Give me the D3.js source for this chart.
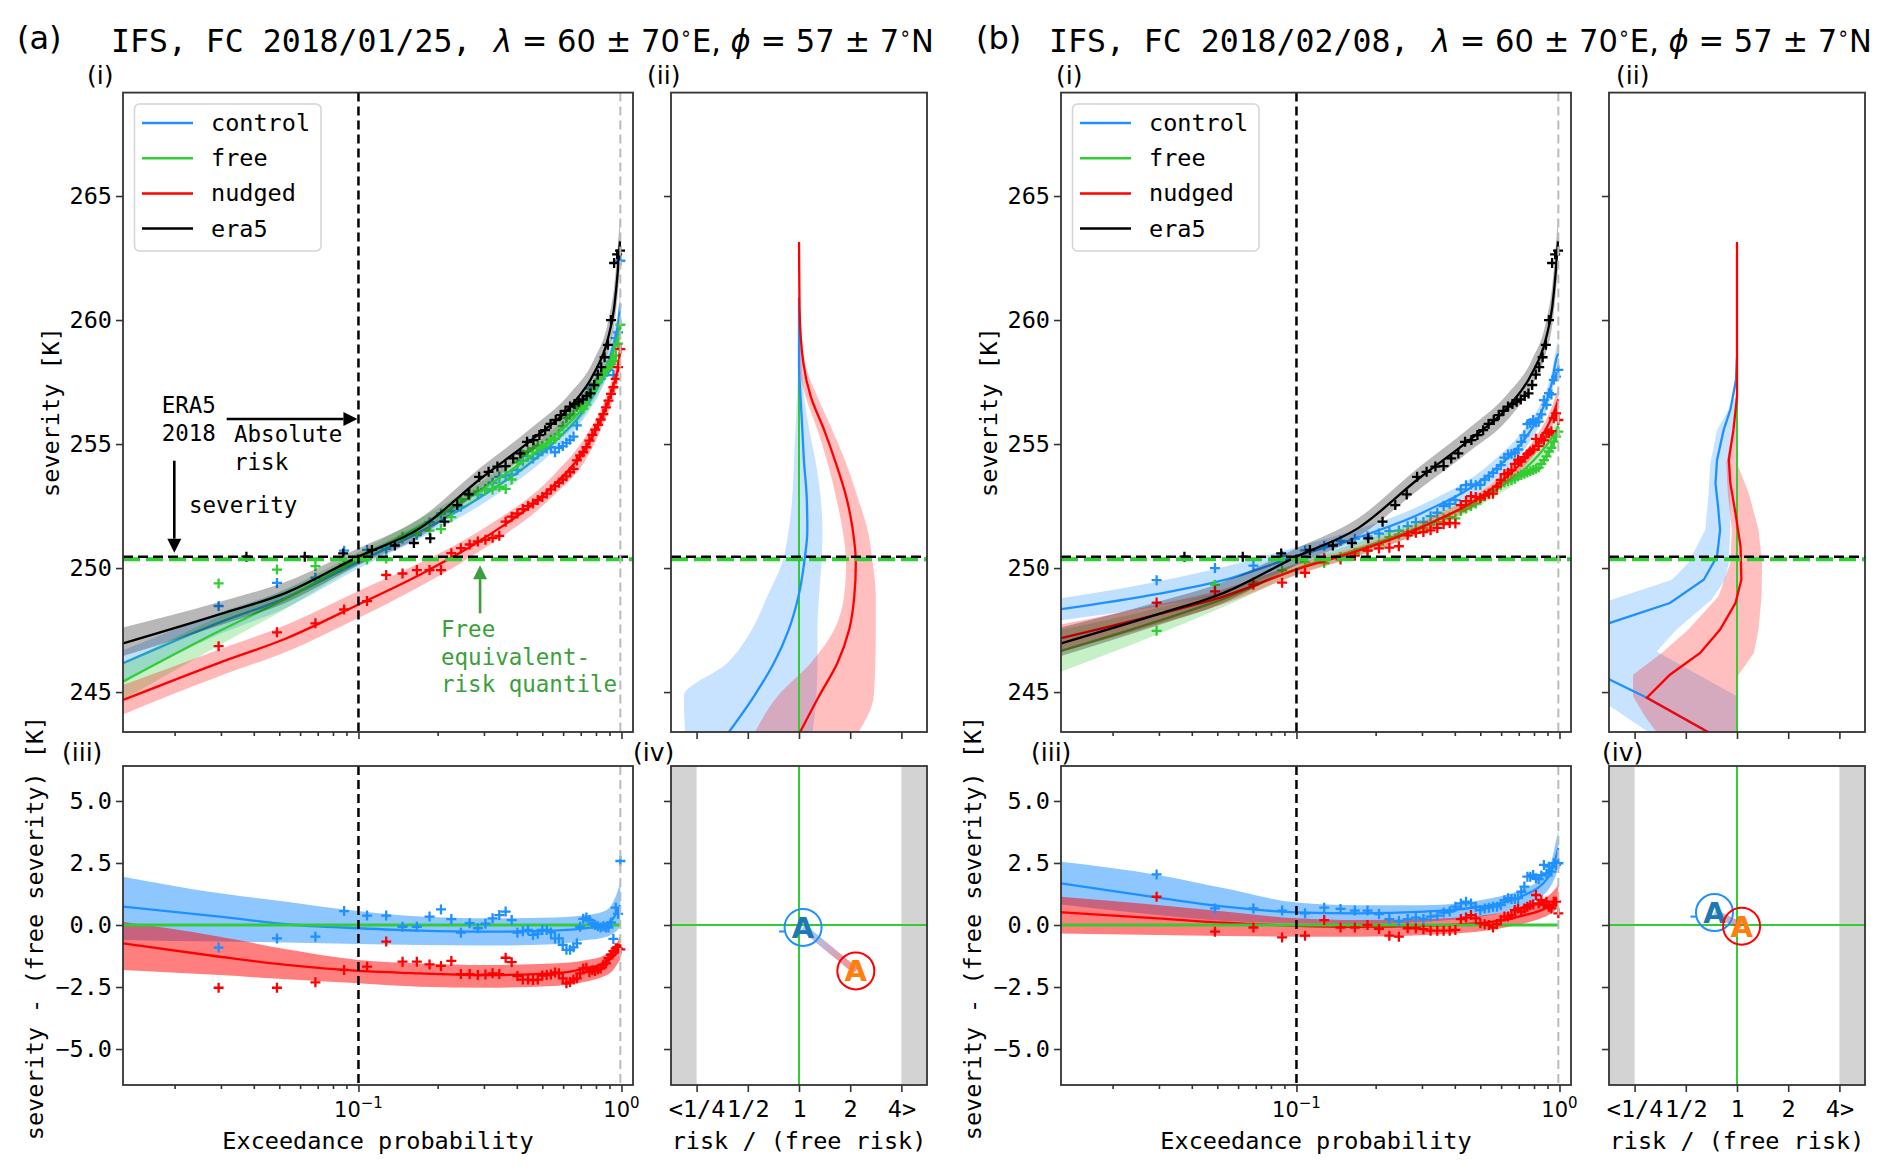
<!DOCTYPE html>
<html><head><meta charset="utf-8">
<script src="https://cdn.jsdelivr.net/npm/d3@7"></script>
<style>body{margin:0;background:#fff}svg{display:block}</style>
</head><body>
<svg id="fig" width="1892" height="1173"></svg>
<script>
// ---------------- DATA ----------------
const SERIES_NAMES = ['control', 'free', 'nudged', 'era5'];
const TITLE_A = 'IFS, FC 2018/01/25,';
const TITLE_B = 'IFS, FC 2018/02/08,';
const TITLE_MATH = [['λ', true], [' = 60 ± 70', false], ['∘', false, true], ['E, ', false], ['ϕ', true], [' = 57 ± 7', false], ['∘', false, true], ['N', false]];

const X_DOMAIN = [0.01273, 1.106];
const SEV_DOMAIN = [243.39, 269.17];
const DIFF_DOMAIN = [-6.45, 6.41];
const LOG2_DOMAIN = [-2.5, 2.5];
const SEV_TICKS = [245, 250, 255, 260, 265];
const DIFF_TICKS = [-5, -2.5, 0, 2.5, 5];
const P_MAJOR_TICKS = [0.1, 1];
const P_MAJOR_LABELS = [['10', '−1'], ['10', '0']];
const P_MINOR_TICKS = [0.02, 0.03, 0.04, 0.05, 0.06, 0.07, 0.08, 0.09, 0.2, 0.3, 0.4, 0.5, 0.6, 0.7, 0.8, 0.9];
const RATIO_TICKS = [-2, -1, 0, 1, 2];
const RATIO_TICK_LABELS = ['<1/4', '1/2', '1', '2', '4>'];

const ERA5_2018_SEV = 250.46;     // black dashed
const FREE_EQ_SEV = 250.36;       // green dashed
const ABS_RISK_P = 0.1;           // black dashed vertical
const LAST_P = 0.99;              // grey dashed vertical
const FREE_EQ_P = 0.29;           // green annotation arrow

// ensemble plotting positions (visible members) and ERA5 years
const P_MODEL = [0.0294,0.0490,0.0686,0.0882,0.1078,0.1275,0.1471,0.1667,0.1863,0.2059,0.2255,0.2451,0.2647,0.2843,0.3039,0.3235,0.3431,0.3627,0.3824,0.4020,0.4216,0.4412,0.4608,0.4804,0.5000,0.5196,0.5392,0.5588,0.5784,0.5980,0.6176,0.6373,0.6569,0.6765,0.6961,0.7157,0.7353,0.7549,0.7745,0.7941,0.8137,0.8333,0.8529,0.8725,0.8922,0.9118,0.9314,0.9510,0.9706,0.9902];
const P_ERA5 = [0.0375,0.0625,0.0875,0.1125,0.1375,0.1625,0.1875,0.2125,0.2375,0.2625,0.2875,0.3125,0.3375,0.3625,0.3875,0.4125,0.4375,0.4625,0.4875,0.5125,0.5375,0.5625,0.5875,0.6125,0.6375,0.6625,0.6875,0.7125,0.7375,0.7625,0.7875,0.8125,0.8375,0.8625,0.8875,0.9125,0.9375,0.9625,0.9875];
const ERA5_SEV = [250.46,250.46,250.59,250.73,250.91,251.01,251.2,251.87,252.54,252.97,253.68,253.88,254.09,254.11,254.42,254.62,255.09,255.16,255.36,255.56,255.81,255.97,256.17,256.34,256.51,256.61,256.71,256.8,256.94,257.04,257.38,257.8,258.1,258.5,259.0,260.0,262.3,262.65,262.8];

// (a) nudged severities read in (i); (iii) differences to free
const NUDGED_SEV_A = [246.85,247.41,247.77,248.33,248.67,249.72,249.78,249.92,249.92,249.92,250.6,250.8,250.95,251.07,251.14,251.22,251.3,251.87,252.07,252.2,252.38,252.5,252.6,252.74,252.87,253.0,253.17,253.3,253.44,253.57,253.7,253.87,254.0,254.34,254.54,254.67,254.87,255.14,255.37,255.58,255.77,255.99,256.21,256.48,256.75,257.02,257.29,257.63,258.1,258.83];
const DIFF_CONTROL_A = [-0.91,-0.54,-0.47,0.56,0.38,0.38,-0.07,-0.07,0.34,0.63,0.24,-0.31,0.07,-0.13,0.05,0.27,0.4,0.54,0.2,-0.31,-0.25,-0.2,-0.4,-0.35,-0.2,-0.2,-0.3,-0.54,-0.54,-0.8,-1.0,-1.0,-0.9,-0.74,-0.07,0.25,0.3,0.2,0.05,0.0,-0.05,-0.1,-0.05,-0.1,-0.1,0.1,-0.56,0.7,0.45,2.58];
const DIFF_NUDGED_A = [-2.53,-2.53,-2.31,-1.81,-1.68,-0.67,-1.48,-1.48,-1.59,-1.65,-1.45,-1.98,-1.98,-2.02,-2.0,-1.95,-1.98,-1.32,-1.5,-2.06,-2.2,-2.2,-2.22,-2.2,-2.04,-2.02,-2.0,-1.91,-1.95,-2.15,-2.35,-2.3,-2.2,-2.15,-1.95,-1.75,-1.72,-1.9,-1.82,-1.85,-1.78,-1.75,-1.6,-1.55,-1.34,-1.2,-1.05,-0.94,-0.95,-0.98];
// (b) free severities read in (i); (iii) differences to free
const FREE_SEV_B = [247.47,249.33,249.43,249.91,250.24,250.2,250.45,250.6,250.7,250.95,251.25,251.35,251.45,251.55,251.62,251.75,251.85,252.0,252.05,252.0,252.3,252.4,252.5,252.6,252.75,252.9,253.0,253.1,253.25,253.35,253.45,253.5,253.55,253.6,253.7,253.75,253.8,253.85,253.9,253.95,254.0,254.05,254.2,254.35,254.5,254.7,254.85,255.1,255.3,255.5];
const DIFF_CONTROL_B = [2.04,0.67,0.67,0.58,0.47,0.7,0.65,0.58,0.58,0.44,0.24,0.16,0.24,0.3,0.24,0.34,0.38,0.5,0.54,0.74,0.87,0.94,0.87,0.74,0.6,0.67,0.7,0.74,0.74,0.8,1.0,1.08,1.05,1.05,1.08,1.34,1.55,1.95,1.95,2.02,1.88,1.85,2.0,2.42,2.08,2.35,2.15,2.49,2.42,2.49];
const DIFF_NUDGED_B = [1.14,-0.27,-0.1,-0.5,-0.43,0.2,-0.1,-0.1,0.0,-0.16,-0.43,-0.47,-0.13,-0.13,-0.17,-0.23,-0.23,-0.23,-0.23,-0.2,0.24,0.3,0.4,0.27,0.07,0.03,0.0,-0.1,0.03,0.2,0.34,0.34,0.4,0.6,0.67,0.54,0.67,0.74,0.8,0.83,1.21,0.87,1.0,0.8,0.94,0.74,0.67,0.94,0.94,0.47];

// fitted curves (centre, lower, upper) at probability knots
const CURVE_P = [0.01273,0.0297,0.0533,0.1,0.171,0.307,0.55,0.737,0.853,0.931,0.978,0.99];
const ERA5_CURVE_P = [0.01273,0.03,0.053,0.1,0.171,0.291,0.454,0.638,0.786,0.885,0.939,0.967,0.9875];
const ERA5_CURVE = [246.96,248.15,249.0,250.46,251.6,253.6,255.16,256.5,257.85,259.19,260.54,261.9,263.2];
const ERA5_LO = [246.45,247.7,248.6,250.12,251.25,253.15,254.7,256.0,257.35,258.6,259.8,261.0,262.1];
const ERA5_HI = [247.6,248.65,249.45,250.8,252.0,254.05,255.65,257.05,258.4,259.85,261.4,262.9,264.2];

const FREE_A_CURVE = [245.42,247.47,248.78,250.38,251.68,253.29,255.27,256.65,257.76,258.7,259.45,259.85];
const FREE_A_LO = [244.68,246.9,248.38,250.11,251.4,252.95,254.93,256.31,257.42,258.25,258.95,259.3];
const FREE_A_HI = [246.16,248.05,249.18,250.65,252.0,253.62,255.61,256.99,258.1,259.15,259.95,260.4];
const CONTROL_A_CURVE = [246.16,247.81,248.81,250.25,251.45,253.02,255.04,256.52,257.76,258.97,260.12,260.65];
const CONTROL_A_LO = [245.42,247.34,248.4,249.98,251.19,252.69,254.71,256.18,257.36,258.5,259.55,260.0];
const CONTROL_A_HI = [246.69,248.21,249.14,250.52,251.79,253.36,255.38,256.85,258.16,259.5,260.7,261.3];
const NUDGED_A_CURVE = [244.68,246.19,247.17,248.53,249.73,251.27,253.32,254.9,256.21,257.35,258.35,258.9];
const NUDGED_A_LO = [244.1,245.65,246.63,247.99,249.26,250.86,252.91,254.43,255.81,256.87,257.8,258.35];
const NUDGED_A_HI = [245.28,246.73,247.71,249.07,250.2,251.68,253.73,255.37,256.61,257.83,258.9,259.45];

const FREE_B_CURVE = [246.66,247.86,248.78,249.97,250.76,251.73,253.05,253.99,254.69,255.23,255.63,255.75];
const FREE_B_LO = [245.82,247.33,248.45,249.74,250.49,251.46,252.78,253.72,254.42,254.93,255.26,255.35];
const FREE_B_HI = [247.5,248.39,249.11,250.2,251.03,252.0,253.32,254.26,254.96,255.53,256.0,256.15];
const CONTROL_B_CURVE = [248.34,248.96,249.52,250.48,251.23,252.27,253.85,255.2,256.3,257.38,258.52,258.65];
const CONTROL_B_LO = [247.9,248.46,248.99,250.11,250.9,251.94,253.45,254.77,255.9,256.95,258.0,258.1];
const CONTROL_B_HI = [248.78,249.46,250.05,250.85,251.56,252.6,254.25,255.63,256.7,257.81,259.0,259.2];
const NUDGED_B_CURVE = [247.17,248.13,248.87,249.94,250.69,251.7,253.18,254.39,255.29,256.04,256.63,256.8];
const NUDGED_B_LO = [246.62,247.73,248.57,249.72,250.49,251.48,252.93,254.09,254.94,255.64,256.13,256.3];
const NUDGED_B_HI = [247.72,248.53,249.17,250.16,250.89,251.92,253.43,254.69,255.64,256.44,257.13,257.3];

// (iii) difference curves
const DCTRL_A_CURVE = [0.74,0.34,0.03,-0.13,-0.23,-0.27,-0.23,-0.13,0.0,0.27,0.67,0.8];
const DCTRL_A_LO = [-0.6,-0.67,-0.71,-0.77,-0.81,-0.83,-0.78,-0.6,-0.51,-0.34,-0.13,-0.05];
const DCTRL_A_HI = [1.95,1.28,0.94,0.56,0.34,0.27,0.3,0.4,0.54,0.94,1.55,1.8];
const DNUDG_A_CURVE = [-0.74,-1.28,-1.61,-1.85,-1.95,-2.02,-1.95,-1.75,-1.55,-1.28,-1.01,-0.9];
const DNUDG_A_LO = [-1.81,-2.02,-2.19,-2.35,-2.49,-2.53,-2.46,-2.28,-2.08,-1.81,-1.48,-1.4];
const DNUDG_A_HI = [0.13,-0.47,-0.98,-1.41,-1.55,-1.61,-1.55,-1.41,-1.24,-0.94,-0.54,-0.4];
const DCTRL_B_CURVE = [1.68,1.1,0.74,0.51,0.47,0.54,0.8,1.21,1.61,2.15,2.89,3.1];
const DCTRL_B_LO = [0.83,0.4,0.16,0.07,0.03,0.13,0.4,0.8,1.14,1.61,2.15,2.35];
const DCTRL_B_HI = [2.55,2.02,1.48,0.91,0.8,0.8,1.08,1.48,1.88,2.55,3.56,3.8];
const DNUDG_B_CURVE = [0.51,0.27,0.09,-0.03,-0.07,-0.03,0.13,0.4,0.6,0.81,1.0,1.05];
const DNUDG_B_LO = [-0.34,-0.4,-0.44,-0.47,-0.47,-0.4,-0.2,0.07,0.27,0.47,0.67,0.7];
const DNUDG_B_HI = [1.14,0.81,0.54,0.27,0.2,0.24,0.43,0.74,1.01,1.28,1.55,1.65];

// (ii) log2(risk / free risk) against severity
const RISK_A_CTRL_SEV = [260.9,258.26,256.91,255.57,254.23,252.89,251.54,250.2,248.86,247.52,246.17,244.83,243.3];
const RISK_A_CTRL = [0,0,0.03,0.065,0.1,0.15,0.163,0.1,-0.01,-0.2,-0.49,-0.88,-1.4];
const RISK_A_CTRL_LO = [0,-0.02,-0.04,-0.07,-0.1,-0.13,-0.2,-0.33,-0.62,-0.92,-1.4,-2.25,-2.22];
const RISK_A_CTRL_HI = [0,0.05,0.1,0.2,0.33,0.42,0.46,0.44,0.39,0.36,0.36,0.34,0.26];
const RISK_A_NUDG_SEV = [263.15,260.54,258.26,256.91,255.57,254.23,252.89,251.54,250.2,248.86,247.52,246.17,244.83,243.3];
const RISK_A_NUDG = [0,0.01,0.085,0.23,0.49,0.72,0.92,1.05,1.11,1.08,0.98,0.75,0.39,0.0];
const RISK_A_NUDG_LO = [0,0,0,0.13,0.36,0.56,0.72,0.85,0.92,0.88,0.69,0.23,-0.42,-0.88];
const RISK_A_NUDG_HI = [0,0.02,0.12,0.36,0.65,0.92,1.14,1.34,1.44,1.5,1.5,1.49,1.46,1.14];
const RISK_A_FREE_TOP = 260.6;

const RISK_B_CTRL_SEV = [258.52,257.58,256.38,255.57,254.36,253.42,252.48,251.54,250.47,249.53,248.59,247.79,246.72,245.5,244.77,243.3];
const RISK_B_CTRL = [0,-0.02,-0.13,-0.26,-0.39,-0.42,-0.37,-0.33,-0.39,-0.65,-1.31,-2.48,-3.3,-2.48,-1.76,-0.49];
const RISK_B_CTRL_BAND_SEV = [257.58,256.91,255.57,254.23,252.89,251.54,250.2,249.53,248.72,247.52,246.64,245.77,244.83,244.43,243.3];
const RISK_B_CTRL_LO = [0,-0.03,-0.39,-0.52,-0.56,-0.62,-0.95,-1.27,-2.45,-3.5,-3.5,-3.5,-3.5,-2.48,-1.67];
const RISK_B_CTRL_HI = [0,0,-0.08,-0.13,-0.13,-0.13,-0.16,-0.23,-0.5,-1.18,-1.57,-0.82,0,0,0];
const RISK_B_NUDG_SEV = [263.15,256.91,255.57,254.36,253.42,252.21,250.87,249.53,248.59,247.52,246.58,245.7,244.77,243.3];
const RISK_B_NUDG = [0,0,-0.07,-0.16,-0.13,-0.03,0.07,0.085,-0.03,-0.33,-0.72,-1.31,-1.76,-0.49];
const RISK_B_NUDG_BAND_SEV = [256.91,255.57,254.23,253.02,251.54,250.2,248.86,247.52,246.58,245.7,244.83,244.03,243.3];
const RISK_B_NUDG_LO = [0,-0.08,-0.21,-0.18,-0.1,-0.13,-0.36,-0.95,-1.47,-2.03,-2.03,-1.8,-1.54];
const RISK_B_NUDG_HI = [0,0,0,0.23,0.42,0.49,0.48,0.42,0.33,0.03,0,0,0];
const RISK_B_FREE_TOP = 257.6;

// (iv) summary points: [control, nudged]
const SUMMARY_A_LOG2RISK = [0.08, 1.11];
const SUMMARY_A_DIFF = [-0.1, -1.85];
const SUMMARY_B_LOG2RISK = [-0.44, 0.09];
const SUMMARY_B_DIFF = [0.5, -0.05];

// ---------------- STYLE ----------------
const MONO = "'DejaVu Sans Mono', monospace";
const SANS = "'DejaVu Sans', sans-serif";
const COL = {control: '#1e90ff', free: '#32cd32', nudged: '#ff0000', era5: '#000000'};
const ANN_GREEN = '#3a9f3a';

const svg = d3.select('#fig');
const defs = svg.append('defs');

function plus(x, y) { return `M${x-5},${y}h10M${x},${y-5}v10`; }
function clipFor(id, p) {
  defs.append('clipPath').attr('id', id).append('rect')
    .attr('x', p.x0).attr('y', p.y0).attr('width', p.x1 - p.x0).attr('height', p.y1 - p.y0);
  return `url(#${id})`;
}
function frame(g, p) {
  g.append('rect').attr('x', p.x0).attr('y', p.y0).attr('width', p.x1 - p.x0).attr('height', p.y1 - p.y0)
    .attr('fill', 'none').attr('stroke', '#333').attr('stroke-width', 1.8);
}
function styleAxis(sel) {
  sel.select('.domain').remove();
  sel.selectAll('.tick line').attr('stroke', '#333').attr('stroke-width', 1.6);
  sel.selectAll('.tick text').attr('font-family', MONO).attr('font-size', 23.5).attr('fill', '#000');
}
function txt(g, x, y, s, opts = {}) {
  const t = g.append('text').attr('x', x).attr('y', y).text(s)
    .attr('font-family', opts.font || MONO).attr('font-size', opts.size || 23.5)
    .attr('fill', opts.fill || '#000');
  if (opts.anchor) t.attr('text-anchor', opts.anchor);
  if (opts.rotate) t.attr('transform', `rotate(-90,${x},${y})`);
  if (opts.weight) t.attr('font-weight', opts.weight);
  return t;
}
function arrow(g, x1, y1, x2, y2, color) {
  const L = Math.hypot(x2 - x1, y2 - y1), ux = (x2 - x1) / L, uy = (y2 - y1) / L;
  const hl = 14, hw = 7;
  const bx = x2 - ux * hl, by = y2 - uy * hl;
  g.append('line').attr('x1', x1).attr('y1', y1).attr('x2', bx).attr('y2', by)
    .attr('stroke', color).attr('stroke-width', 2.6);
  g.append('path').attr('d', `M${x2},${y2}L${bx - uy * hw},${by + ux * hw}L${bx + uy * hw},${by - ux * hw}Z`).attr('fill', color);
}

function drawFigure(F) {
  const dx = F.dx, g = svg.append('g');
  const pI = {x0: 123 + dx, x1: 633 + dx, y0: 92.6, y1: 732};
  const pII = {x0: 671 + dx, x1: 927 + dx, y0: 92.6, y1: 732};
  const pIII = {x0: 123 + dx, x1: 633 + dx, y0: 766, y1: 1085};
  const pIV = {x0: 671 + dx, x1: 927 + dx, y0: 766, y1: 1085};
  const xP = d3.scaleLog().domain(X_DOMAIN).range([pI.x0, pI.x1]);
  const ySev = d3.scaleLinear().domain(SEV_DOMAIN).range([pI.y1, pI.y0]);
  const yDiff = d3.scaleLinear().domain(DIFF_DOMAIN).range([pIII.y1, pIII.y0]);
  const xR = d3.scaleLinear().domain(LOG2_DOMAIN).range([pII.x0, pII.x1]);

  // ---- titles ----
  txt(g, F.tagX, 49, F.tag, {font: SANS, size: 32});
  txt(g, 111 + dx, 52, F.title, {size: 31.5});
  const tm = g.append('text').attr('x', 494 + dx).attr('y', 52).attr('font-family', SANS).attr('font-size', 32);
  TITLE_MATH.forEach(([s, it, sup]) => {
    const ts = tm.append('tspan').text(s).attr('font-style', it ? 'italic' : null);
    if (sup) ts.attr('font-size', 20).attr('dy', -12);
    else if (s === 'E, ' || s === 'N') ts.attr('dy', 12);
  });
  const w = tm.node().getBBox().width;
  const k = 442 / w, x0 = 494 + dx;
  tm.attr('transform', `translate(${x0},0) scale(${k},1) translate(${-x0},0)`);
  const ls = F.labelShift;
  txt(g, 87 + ls, 84, '(i)', {font: SANS, size: 25});
  txt(g, 647 + ls, 84, '(ii)', {font: SANS, size: 25});
  txt(g, 62 + ls, 761, '(iii)', {font: SANS, size: 25});
  txt(g, 633 + ls, 761, '(iv)', {font: SANS, size: 25});

  // ---- panel (i) ----
  const gI = g.append('g').attr('clip-path', clipFor('ci' + F.id, pI));
  F.series.forEach(s => {
    const pts = s.curveP.map((p, i) => ({p, v: s.curve[i], lo: s.lo[i], hi: s.hi[i]}));
    gI.append('path').datum(pts)
      .attr('d', d3.area().x(d => xP(d.p)).y0(d => ySev(d.lo)).y1(d => ySev(d.hi)).curve(d3.curveMonotoneX))
      .attr('fill', s.color).attr('fill-opacity', 0.28).attr('stroke', 'none');
    gI.append('path').datum(pts)
      .attr('d', d3.line().x(d => xP(d.p)).y(d => ySev(d.v)).curve(d3.curveMonotoneX))
      .attr('fill', 'none').attr('stroke', s.color).attr('stroke-width', 2.3);
    gI.append('path').attr('d', s.pointsP.map((p, i) => plus(xP(p), ySev(s.points[i]))).join(''))
      .attr('stroke', s.color).attr('stroke-width', 2.3).attr('fill', 'none');
  });
  gI.append('line').attr('x1', pI.x0).attr('x2', pI.x1).attr('y1', ySev(FREE_EQ_SEV)).attr('y2', ySev(FREE_EQ_SEV))
    .attr('stroke', COL.free).attr('stroke-width', 4).attr('stroke-dasharray', '17,6');
  gI.append('line').attr('x1', pI.x0).attr('x2', pI.x1).attr('y1', ySev(ERA5_2018_SEV)).attr('y2', ySev(ERA5_2018_SEV))
    .attr('stroke', '#000').attr('stroke-width', 2.5).attr('stroke-dasharray', '10,5');
  gI.append('line').attr('x1', xP(ABS_RISK_P)).attr('x2', xP(ABS_RISK_P)).attr('y1', pI.y0).attr('y2', pI.y1)
    .attr('stroke', '#000').attr('stroke-width', 2.5).attr('stroke-dasharray', '9,5');
  gI.append('line').attr('x1', xP(LAST_P)).attr('x2', xP(LAST_P)).attr('y1', pI.y0).attr('y2', pI.y1)
    .attr('stroke', '#bbb').attr('stroke-width', 2).attr('stroke-dasharray', '9,5');

  // legend
  const lg = g.append('g');
  lg.append('rect').attr('x', 134.5 + dx).attr('y', 104).attr('width', 186.5).attr('height', 147).attr('rx', 5)
    .attr('fill', '#fff').attr('fill-opacity', 0.85).attr('stroke', '#d4d4d4').attr('stroke-width', 1.5);
  SERIES_NAMES.forEach((name, i) => {
    const y = 123 + i * 35.2;
    lg.append('line').attr('x1', 142 + dx).attr('x2', 193 + dx).attr('y1', y).attr('y2', y)
      .attr('stroke', COL[name]).attr('stroke-width', 2.5);
    txt(lg, 211 + dx, y, name).attr('dominant-baseline', 'central');
  });

  // annotations (only figure a)
  if (F.annotate) {
    const ga = g.append('g');
    txt(ga, 161.7 + dx, 413, 'ERA5', {size: 22.5});
    txt(ga, 161.7 + dx, 440.5, '2018', {size: 22.5});
    txt(ga, 234 + dx, 441.7, 'Absolute', {size: 22.5});
    txt(ga, 234 + dx, 470, 'risk', {size: 22.5});
    txt(ga, 189 + dx, 512.7, 'severity', {size: 22.5});
    arrow(ga, 226.7 + dx, 419, xP(ABS_RISK_P) - 1, 419, '#000');
    arrow(ga, 174.3 + dx, 460.7, 174.3 + dx, ySev(ERA5_2018_SEV) - 4, '#000');
    arrow(ga, xP(FREE_EQ_P), 613.3, xP(FREE_EQ_P), ySev(FREE_EQ_SEV) + 6, ANN_GREEN);
    txt(ga, 441 + dx, 636.7, 'Free', {size: 22.5, fill: ANN_GREEN});
    txt(ga, 441 + dx, 664.5, 'equivalent-', {size: 22.5, fill: ANN_GREEN});
    txt(ga, 441 + dx, 692, 'risk quantile', {size: 22.5, fill: ANN_GREEN});
  }

  // ---- panel (ii) ----
  const gII = g.append('g').attr('clip-path', clipFor('cii' + F.id, pII));
  F.risk.forEach(r => {
    const band = r.bandSev.map((s, i) => ({s, lo: r.lo[i], hi: r.hi[i]}));
    gII.append('path').datum(band)
      .attr('d', d3.area().y(d => ySev(d.s)).x0(d => xR(d.lo)).x1(d => xR(d.hi)).curve(F.riskCurve))
      .attr('fill', r.color).attr('fill-opacity', 0.25);
  });
  gII.append('line').attr('x1', xR(0)).attr('x2', xR(0)).attr('y1', ySev(F.freeTop)).attr('y2', pII.y1)
    .attr('stroke', COL.free).attr('stroke-width', 2);
  F.risk.forEach(r => {
    const line = r.sev.map((s, i) => ({s, v: r.v[i]}));
    gII.append('path').datum(line)
      .attr('d', d3.line().y(d => ySev(d.s)).x(d => xR(d.v)).curve(F.riskCurve))
      .attr('fill', 'none').attr('stroke', r.color).attr('stroke-width', 2.3);
  });
  gII.append('line').attr('x1', pII.x0).attr('x2', pII.x1).attr('y1', ySev(FREE_EQ_SEV)).attr('y2', ySev(FREE_EQ_SEV))
    .attr('stroke', COL.free).attr('stroke-width', 4).attr('stroke-dasharray', '17,6');
  gII.append('line').attr('x1', pII.x0).attr('x2', pII.x1).attr('y1', ySev(ERA5_2018_SEV)).attr('y2', ySev(ERA5_2018_SEV))
    .attr('stroke', '#000').attr('stroke-width', 2.5).attr('stroke-dasharray', '10,5');

  // ---- panel (iii) ----
  const gIII = g.append('g').attr('clip-path', clipFor('ciii' + F.id, pIII));
  F.diffs.forEach(s => {
    const pts = CURVE_P.map((p, i) => ({p, v: s.curve[i], lo: s.lo[i], hi: s.hi[i]}));
    gIII.append('path').datum(pts)
      .attr('d', d3.area().x(d => xP(d.p)).y0(d => yDiff(d.lo)).y1(d => yDiff(d.hi)).curve(d3.curveMonotoneX))
      .attr('fill', s.color).attr('fill-opacity', 0.5);
    gIII.append('path').datum(pts)
      .attr('d', d3.line().x(d => xP(d.p)).y(d => yDiff(d.v)).curve(d3.curveMonotoneX))
      .attr('fill', 'none').attr('stroke', s.color).attr('stroke-width', 2.3);
  });
  gIII.append('line').attr('x1', xP(X_DOMAIN[0])).attr('x2', xP(LAST_P)).attr('y1', yDiff(0)).attr('y2', yDiff(0))
    .attr('stroke', COL.free).attr('stroke-width', 3);
  F.diffs.forEach(s => {
    gIII.append('path').attr('d', P_MODEL.map((p, i) => plus(xP(p), yDiff(s.points[i]))).join(''))
      .attr('stroke', s.color).attr('stroke-width', 2.3).attr('fill', 'none');
  });
  gIII.append('line').attr('x1', xP(ABS_RISK_P)).attr('x2', xP(ABS_RISK_P)).attr('y1', pIII.y0).attr('y2', pIII.y1)
    .attr('stroke', '#000').attr('stroke-width', 2.5).attr('stroke-dasharray', '9,5');
  gIII.append('line').attr('x1', xP(LAST_P)).attr('x2', xP(LAST_P)).attr('y1', pIII.y0).attr('y2', pIII.y1)
    .attr('stroke', '#bbb').attr('stroke-width', 2).attr('stroke-dasharray', '9,5');

  // ---- panel (iv) ----
  const gIV = g.append('g').attr('clip-path', clipFor('civ' + F.id, pIV));
  gIV.append('rect').attr('x', xR(LOG2_DOMAIN[0])).attr('width', xR(-2) - xR(LOG2_DOMAIN[0]))
    .attr('y', pIV.y0).attr('height', pIV.y1 - pIV.y0).attr('fill', '#d3d3d3');
  gIV.append('rect').attr('x', xR(2)).attr('width', xR(LOG2_DOMAIN[1]) - xR(2))
    .attr('y', pIV.y0).attr('height', pIV.y1 - pIV.y0).attr('fill', '#d3d3d3');
  gIV.append('line').attr('x1', xR(0)).attr('x2', xR(0)).attr('y1', pIV.y0).attr('y2', pIV.y1)
    .attr('stroke', COL.free).attr('stroke-width', 2);
  gIV.append('line').attr('x1', pIV.x0).attr('x2', pIV.x1).attr('y1', yDiff(0)).attr('y2', yDiff(0))
    .attr('stroke', COL.free).attr('stroke-width', 2);
  const cx = F.sumRisk.map(v => xR(v)), cy = F.sumDiff.map(v => yDiff(v));
  const grad = defs.append('linearGradient').attr('id', 'gr' + F.id).attr('gradientUnits', 'userSpaceOnUse')
    .attr('x1', cx[0]).attr('y1', cy[0]).attr('x2', cx[1]).attr('y2', cy[1]);
  grad.append('stop').attr('offset', '0%').attr('stop-color', COL.control).attr('stop-opacity', 0.45);
  grad.append('stop').attr('offset', '100%').attr('stop-color', COL.nudged).attr('stop-opacity', 0.45);
  gIV.append('line').attr('x1', cx[0]).attr('y1', cy[0]).attr('x2', cx[1]).attr('y2', cy[1])
    .attr('stroke', `url(#gr${F.id})`).attr('stroke-width', 7);
  gIV.append('line').attr('x1', cx[0] - 24).attr('x2', cx[0] - 18).attr('y1', cy[0] + 4).attr('y2', cy[0] + 4)
    .attr('stroke', COL.control).attr('stroke-width', 2);
  const ringCol = [COL.control, COL.nudged], letterCol = ['#1f77b4', '#ff7f0e'];
  [0, 1].forEach(i => {
    gIV.append('circle').attr('cx', cx[i]).attr('cy', cy[i]).attr('r', 18.5)
      .attr('fill', 'none').attr('stroke', ringCol[i]).attr('stroke-width', 2);
    gIV.append('text').attr('x', cx[i]).attr('y', cy[i] + 10.5).attr('text-anchor', 'middle')
      .attr('font-family', SANS).attr('font-weight', 'bold').attr('font-size', 29)
      .attr('fill', letterCol[i]).text('A');
  });

  // ---- axes & frames ----
  [pI, pII, pIII, pIV].forEach(p => frame(g, p));
  g.append('g').attr('transform', `translate(${pI.x0},0)`)
    .call(d3.axisLeft(ySev).tickValues(SEV_TICKS).tickSize(7).tickPadding(4).tickFormat(d3.format('d'))).call(styleAxis);
  g.append('g').attr('transform', `translate(${pII.x0},0)`)
    .call(d3.axisLeft(ySev).tickValues(SEV_TICKS).tickSize(7).tickFormat('')).call(styleAxis);
  g.append('g').attr('transform', `translate(${pIII.x0},0)`)
    .call(d3.axisLeft(yDiff).tickValues(DIFF_TICKS).tickSize(7).tickPadding(4)
      .tickFormat(d => d.toFixed(1).replace('-', '−'))).call(styleAxis);
  g.append('g').attr('transform', `translate(${pIV.x0},0)`)
    .call(d3.axisLeft(yDiff).tickValues(DIFF_TICKS).tickSize(7).tickFormat('')).call(styleAxis);
  [pI, pIII].forEach(p => {
    g.append('g').attr('transform', `translate(0,${p.y1})`)
      .call(d3.axisBottom(xP).tickValues(P_MAJOR_TICKS).tickSize(7).tickFormat('')).call(styleAxis);
    g.append('g').attr('transform', `translate(0,${p.y1})`)
      .call(d3.axisBottom(xP).tickValues(P_MINOR_TICKS).tickSize(4).tickFormat('')).call(styleAxis);
  });
  g.append('g').attr('transform', `translate(0,${pII.y1})`)
    .call(d3.axisBottom(xR).tickValues(RATIO_TICKS).tickSize(7).tickFormat('')).call(styleAxis);
  g.append('g').attr('transform', `translate(0,${pIV.y1})`)
    .call(d3.axisBottom(xR).tickValues(RATIO_TICKS).tickSize(7).tickPadding(8)
      .tickFormat((d, i) => RATIO_TICK_LABELS[i])).call(styleAxis);
  P_MAJOR_TICKS.forEach((v, i) => {
    const t = g.append('text').attr('x', xP(v)).attr('y', 1117).attr('text-anchor', 'middle')
      .attr('font-family', SANS).attr('font-size', 21);
    t.append('tspan').text(P_MAJOR_LABELS[i][0]);
    t.append('tspan').text(P_MAJOR_LABELS[i][1]).attr('font-size', 15).attr('dy', -9);
  });

  // axis labels
  txt(g, 378 + dx, 1149, 'Exceedance probability', {anchor: 'middle'});
  txt(g, 799 + dx, 1149, 'risk / (free risk)', {anchor: 'middle'});
  txt(g, 59 + dx, 412, 'severity [K]', {anchor: 'middle', rotate: true});
  txt(g, 43 + dx, 928, 'severity - (free severity) [K]', {anchor: 'middle', rotate: true});
}

// ---------------- assemble the two cases ----------------
const freeA = NUDGED_SEV_A.map((v, i) => v - DIFF_NUDGED_A[i]);
const controlA = freeA.map((v, i) => v + DIFF_CONTROL_A[i]);
const nudgedB = FREE_SEV_B.map((v, i) => v + DIFF_NUDGED_B[i]);
const controlB = FREE_SEV_B.map((v, i) => v + DIFF_CONTROL_B[i]);

function era5Series() {
  return {color: COL.era5, curveP: ERA5_CURVE_P, curve: ERA5_CURVE, lo: ERA5_LO, hi: ERA5_HI, pointsP: P_ERA5, points: ERA5_SEV};
}

drawFigure({
  id: 'a', dx: 0, tag: '(a)', tagX: 17, title: TITLE_A, labelShift: 0, annotate: true,
  series: [
    {color: COL.control, curveP: CURVE_P, curve: CONTROL_A_CURVE, lo: CONTROL_A_LO, hi: CONTROL_A_HI, pointsP: P_MODEL, points: controlA},
    {color: COL.free, curveP: CURVE_P, curve: FREE_A_CURVE, lo: FREE_A_LO, hi: FREE_A_HI, pointsP: P_MODEL, points: freeA},
    {color: COL.nudged, curveP: CURVE_P, curve: NUDGED_A_CURVE, lo: NUDGED_A_LO, hi: NUDGED_A_HI, pointsP: P_MODEL, points: NUDGED_SEV_A},
    era5Series()
  ],
  diffs: [
    {color: COL.control, curve: DCTRL_A_CURVE, lo: DCTRL_A_LO, hi: DCTRL_A_HI, points: DIFF_CONTROL_A},
    {color: COL.nudged, curve: DNUDG_A_CURVE, lo: DNUDG_A_LO, hi: DNUDG_A_HI, points: DIFF_NUDGED_A}
  ],
  risk: [
    {color: COL.control, sev: RISK_A_CTRL_SEV, v: RISK_A_CTRL, bandSev: RISK_A_CTRL_SEV, lo: RISK_A_CTRL_LO, hi: RISK_A_CTRL_HI},
    {color: COL.nudged, sev: RISK_A_NUDG_SEV, v: RISK_A_NUDG, bandSev: RISK_A_NUDG_SEV, lo: RISK_A_NUDG_LO, hi: RISK_A_NUDG_HI}
  ],
  riskCurve: d3.curveMonotoneY, freeTop: RISK_A_FREE_TOP,
  sumRisk: SUMMARY_A_LOG2RISK, sumDiff: SUMMARY_A_DIFF
});

drawFigure({
  id: 'b', dx: 938, tag: '(b)', tagX: 976, title: TITLE_B, labelShift: 969, annotate: false,
  series: [
    {color: COL.control, curveP: CURVE_P, curve: CONTROL_B_CURVE, lo: CONTROL_B_LO, hi: CONTROL_B_HI, pointsP: P_MODEL, points: controlB},
    {color: COL.free, curveP: CURVE_P, curve: FREE_B_CURVE, lo: FREE_B_LO, hi: FREE_B_HI, pointsP: P_MODEL, points: FREE_SEV_B},
    {color: COL.nudged, curveP: CURVE_P, curve: NUDGED_B_CURVE, lo: NUDGED_B_LO, hi: NUDGED_B_HI, pointsP: P_MODEL, points: nudgedB},
    era5Series()
  ],
  diffs: [
    {color: COL.control, curve: DCTRL_B_CURVE, lo: DCTRL_B_LO, hi: DCTRL_B_HI, points: DIFF_CONTROL_B},
    {color: COL.nudged, curve: DNUDG_B_CURVE, lo: DNUDG_B_LO, hi: DNUDG_B_HI, points: DIFF_NUDGED_B}
  ],
  risk: [
    {color: COL.control, sev: RISK_B_CTRL_SEV, v: RISK_B_CTRL, bandSev: RISK_B_CTRL_BAND_SEV, lo: RISK_B_CTRL_LO, hi: RISK_B_CTRL_HI},
    {color: COL.nudged, sev: RISK_B_NUDG_SEV, v: RISK_B_NUDG, bandSev: RISK_B_NUDG_BAND_SEV, lo: RISK_B_NUDG_LO, hi: RISK_B_NUDG_HI}
  ],
  riskCurve: d3.curveLinear, freeTop: RISK_B_FREE_TOP,
  sumRisk: SUMMARY_B_LOG2RISK, sumDiff: SUMMARY_B_DIFF
});
</script>
</body></html>
